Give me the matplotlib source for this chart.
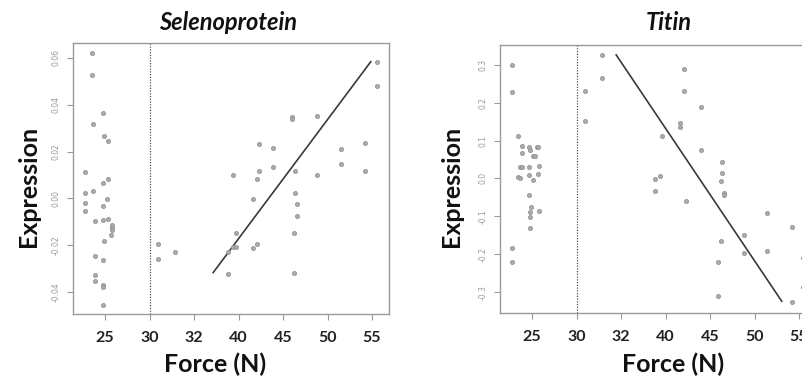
import matplotlib
matplotlib.use("Agg")
import matplotlib.pyplot as plt
import numpy as np

# Force groups (positions 1..7 on the x axis carry these labels)
force_labels = ["25", "30", "32", "40", "45", "50", "55"]
threshold_pos = 2  # dotted divider at the 30 N group

# Selenoprotein expression
sel_x = [0.70, 0.70, 0.95, 0.72, 0.98, 1.07, 0.55, 1.07, 0.95, 0.55, 0.73, 1.05,
         0.55, 0.95, 0.55, 0.78, 0.96, 1.06, 1.16, 1.16, 1.15, 1.13, 0.98, 0.78,
         0.96, 0.78, 0.78, 0.96, 0.96, 0.96,
         2.19, 2.19, 2.57, 3.77, 3.77, 3.87, 3.88, 3.94, 3.94, 4.33, 4.33, 4.42,
         4.42, 4.47, 4.46, 4.78, 4.78, 5.19, 5.19, 5.26, 5.26, 5.31, 5.31, 5.25,
         5.25, 5.77, 5.77, 6.30, 6.30, 6.83, 6.83, 7.11, 7.11]
sel_y = [0.0620, 0.0529, 0.0364, 0.0317, 0.0268, 0.0246, 0.0112, 0.0085, 0.0065,
         0.0024, 0.0031, -0.0001, -0.0019, -0.0032, -0.0055, -0.0097, -0.0093,
         -0.0087, -0.0113, -0.0125, -0.0134, -0.0155, -0.0184, -0.0248, -0.0262,
         -0.0328, -0.0354, -0.0368, -0.0377, -0.0454,
         -0.0194, -0.0258, -0.0230, -0.0321, -0.0230, 0.0102, -0.0206, -0.0206,
         -0.0149, -0.0001, -0.0210, -0.0197, 0.0082, 0.0119, 0.0233, 0.0216,
         0.0135, 0.0349, 0.0340, 0.0116, 0.0021, -0.0022, -0.0075, -0.0149,
         -0.0319, 0.0352, 0.0102, 0.0210, 0.0147, 0.0238, 0.0116, 0.0584, 0.0480]
sel_fit_x = [3.43, 6.97]
sel_fit_y = [-0.0317, 0.0584]
sel_yticks = [-0.04, -0.02, 0.00, 0.02, 0.04, 0.06]

# Titin expression
tit_x = [0.54, 0.54, 0.69, 0.78, 0.78, 0.73, 0.77, 0.69, 0.73, 0.94, 0.95, 1.03,
         1.07, 1.11, 1.14, 0.94, 1.16, 0.94, 1.03, 1.13, 0.94, 0.97, 0.95, 0.95,
         1.16, 0.95, 0.54, 0.54,
         2.18, 2.18, 2.57, 2.57, 3.93, 3.76, 3.76, 3.87, 4.33, 4.33, 4.42, 4.42,
         4.45, 4.79, 4.79, 5.26, 5.26, 5.24, 5.32, 5.32, 5.24, 5.18, 5.18, 5.77,
         5.77, 6.28, 6.28, 6.83, 6.83, 7.09, 7.09]
tit_y = [0.300, 0.228, 0.113, 0.085, 0.068, 0.029, 0.029, 0.003, 0.001, 0.082,
         0.076, 0.058, 0.058, 0.082, 0.082, 0.030, 0.034, 0.008, -0.004, 0.012,
         -0.045, -0.075, -0.088, -0.103, -0.087, -0.130, -0.183, -0.221,
         0.231, 0.151, 0.325, 0.265, 0.112, -0.002, -0.033, 0.006, 0.147, 0.136,
         0.290, 0.231, -0.059, 0.189, 0.075, 0.044, 0.014, -0.008, -0.038, -0.043,
         -0.164, -0.221, -0.309, -0.148, -0.197, -0.090, -0.192, -0.129, -0.326,
         -0.210, -0.286]
tit_fit_x = [2.89, 6.61]
tit_fit_y = [0.326, -0.324]
tit_yticks = [-0.3, -0.2, -0.1, 0.0, 0.1, 0.2, 0.3]

W, H = 803, 378
fig = plt.figure(figsize=(W / 100, H / 100), dpi=100)
fig.patch.set_facecolor("white")

FONT = "Lato"
frame_col = "#9a9a9a"


def panel(rect, xs, ys, fx, fy, yticks, ylim, title, title_x, ylab_x, xlab_x):
    ax = fig.add_axes(rect)
    ax.plot(xs, ys, "o", ms=3.0, mfc="#ababab", mec="#8e8e8e", mew=0.5,
            linestyle="none", zorder=3)
    ax.plot(fx, fy, color="#3a3a3a", lw=1.2, zorder=2)
    ax.axvline(threshold_pos, color="#555555", lw=0.9, ls=(0, (1, 1.2)), zorder=1)
    ax.set_xlim(0.28, 7.38)
    ax.set_ylim(*ylim)
    ax.set_xticks(range(1, len(force_labels) + 1))
    ax.set_xticklabels(force_labels, fontfamily=FONT, fontweight="bold",
                       fontsize=11.5, color="#222222")
    ax.set_yticks(yticks)
    ax.set_yticklabels([f"{v:.2f}" if max(abs(t) for t in yticks) < 0.1 else f"{v:.1f}"
                        for v in yticks],
                       rotation=90, va="center", fontsize=5.5, color="#999999")
    ax.tick_params(axis="x", length=4, width=0.8, color=frame_col, pad=8)
    ax.tick_params(axis="y", length=4, width=0.8, color=frame_col, pad=5)
    for s in ax.spines.values():
        s.set_color(frame_col)
        s.set_linewidth(1.0)
    fig.text(title_x / W, 1 - 23 / H, title, ha="center", va="center",
             fontfamily=FONT, fontweight="bold", fontstyle="italic",
             fontsize=17, color="#111111")
    fig.text(ylab_x / W, 1 - 186 / H, "Expression", ha="center", va="center",
             rotation=90, fontfamily=FONT, fontweight="bold", fontsize=18,
             color="#111111")
    fig.text(xlab_x / W, 1 - 364 / H, "Force (N)", ha="center", va="center",
             fontfamily=FONT, fontweight="bold", fontsize=18, color="#111111")
    return ax


sel_ylim = (-0.0494, 0.0664)
tit_ylim = (-0.355, 0.352)

panel([73 / W, (H - 314) / H, 316 / W, 271 / H], sel_x, sel_y, sel_fit_x, sel_fit_y,
      sel_yticks, sel_ylim, "Selenoprotein", 228, 29, 215)
panel([500 / W, (H - 313) / H, 316 / W, 268 / H], tit_x, tit_y, tit_fit_x, tit_fit_y,
      tit_yticks, tit_ylim, "Titin", 669, 452, 673)

fig.savefig("out.png", dpi=100, facecolor="white")
